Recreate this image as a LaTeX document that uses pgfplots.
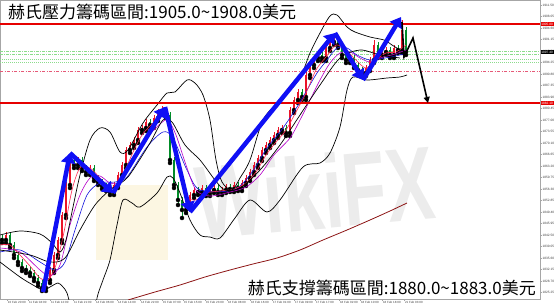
\documentclass[border=0pt]{standalone}
\usepackage{pgfplots}
\pgfplotsset{compat=1.18}
\usepackage{pgfplotstable}
\usepackage{fontspec}
\setmainfont{Liberation Sans}
\newfontfamily\cjk{Noto Sans CJK TC}
\usetikzlibrary{arrows.meta}

\definecolor{candlered}{RGB}{235,20,40}
\definecolor{candlegreen}{RGB}{0,140,40}
\definecolor{mared}{RGB}{255,40,80}
\definecolor{mapurple}{RGB}{180,0,200}
\definecolor{mablue}{RGB}{20,20,220}
\definecolor{arrowblue}{RGB}{15,15,245}
\definecolor{dkred}{RGB}{140,20,20}
\definecolor{lgreen}{RGB}{140,220,140}
\definecolor{pinkdash}{RGB}{230,90,120}
\definecolor{resred}{RGB}{230,0,0}
\definecolor{wmgray}{RGB}{236,236,236}
\definecolor{wmbeige}{RGB}{252,246,226}

\pgfplotstableread{
x lo hi blo bhi
6 1840.1 1843.4 1841.0 1842.5
46 1825.7 1829.9 1826.6 1829.0
50 1828.1 1832.9 1829.0 1832.0
54 1831.1 1837.4 1832.0 1836.5
58 1835.6 1841.9 1836.5 1841.0
62 1840.1 1849.4 1841.0 1848.5
66 1847.6 1858.4 1848.5 1857.5
70 1856.6 1866.5 1857.5 1865.0
78 1862.6 1865.9 1863.5 1865.0
90 1860.5 1863.5 1861.4 1862.6
114 1854.5 1858.4 1855.4 1857.5
118 1856.6 1861.4 1857.5 1860.5
122 1859.6 1864.4 1860.5 1863.5
126 1862.6 1868.9 1863.5 1868.0
130 1867.1 1870.4 1868.0 1869.5
134 1868.6 1871.9 1869.5 1871.0
138 1870.1 1874.9 1871.0 1874.0
142 1873.1 1875.5 1874.0 1874.6
146 1873.7 1877.3 1874.6 1876.4
154 1874.6 1878.5 1875.5 1877.6
158 1876.7 1880.3 1877.6 1879.4
162 1878.5 1881.2 1879.4 1880.0
186 1849.1 1852.4 1850.0 1851.5
190 1850.6 1855.4 1851.5 1854.5
194 1853.6 1856.9 1854.5 1856.0
202 1854.5 1857.5 1855.4 1856.6
210 1854.2 1856.9 1855.1 1856.0
214 1855.1 1857.5 1856.0 1856.6
222 1854.5 1856.9 1855.4 1856.0
226 1855.1 1857.8 1856.0 1856.9
234 1855.4 1858.4 1856.3 1857.5
242 1855.7 1859.0 1856.6 1858.1
246 1857.2 1860.5 1858.1 1859.6
250 1858.7 1862.3 1859.6 1861.4
254 1860.5 1864.4 1861.4 1863.5
258 1862.6 1866.5 1863.5 1865.6
262 1864.7 1868.9 1865.6 1868.0
266 1867.1 1870.4 1868.0 1869.5
270 1868.6 1871.9 1869.5 1871.0
274 1870.1 1873.4 1871.0 1872.5
278 1871.6 1874.9 1872.5 1874.0
282 1873.1 1875.5 1874.0 1874.6
290 1872.2 1880.9 1873.1 1880.0
294 1879.1 1883.9 1880.0 1883.0
298 1882.1 1886.3 1883.0 1885.4
306 1883.0 1891.4 1883.9 1890.5
310 1889.6 1894.4 1890.5 1893.5
314 1892.6 1896.5 1893.5 1895.6
318 1894.7 1898.0 1895.6 1896.5
326 1894.7 1899.5 1895.6 1898.6
330 1897.7 1901.9 1898.6 1900.4
334 1899.5 1903.1 1900.4 1901.6
350 1894.1 1896.5 1895.0 1895.6
366 1890.2 1893.5 1891.1 1892.6
370 1891.7 1895.9 1892.6 1895.0
374 1894.1 1901.0 1895.0 1899.5
382 1895.6 1898.3 1896.5 1897.4
386 1896.5 1898.9 1897.4 1898.0
394 1895.6 1899.5 1896.5 1898.6
402 1897.1 1907.0 1898.0 1904.0
}\upc

\pgfplotstableread{
x lo hi blo bhi
2 1840.1 1842.5 1841.0 1841.6
10 1838.6 1843.4 1839.5 1842.5
14 1835.6 1840.4 1836.5 1839.5
18 1833.5 1837.4 1834.4 1836.5
22 1831.7 1835.3 1832.6 1834.4
26 1831.1 1833.5 1832.0 1832.6
30 1830.2 1832.9 1831.1 1832.0
34 1828.7 1832.0 1829.6 1831.1
38 1827.2 1830.5 1828.1 1829.6
42 1825.7 1829.0 1826.6 1828.1
74 1862.6 1865.9 1863.5 1865.0
82 1861.7 1865.9 1862.6 1865.0
86 1860.5 1863.5 1861.4 1862.6
94 1858.7 1863.5 1859.6 1862.6
98 1857.5 1860.5 1858.4 1859.6
102 1856.3 1859.3 1857.2 1858.4
106 1855.7 1858.1 1856.6 1857.2
110 1854.5 1857.5 1855.4 1856.6
150 1874.6 1877.3 1875.5 1876.4
166 1877.6 1880.9 1878.5 1880.0
170 1864.1 1879.4 1865.0 1878.5
174 1856.6 1865.9 1857.5 1865.0
178 1851.5 1858.4 1853.0 1857.5
182 1847.6 1853.9 1850.0 1853.0
198 1854.5 1856.9 1855.4 1856.0
206 1854.2 1857.5 1855.1 1856.6
218 1854.5 1857.5 1855.4 1856.6
230 1855.4 1857.8 1856.3 1856.9
238 1855.7 1858.4 1856.6 1857.5
286 1872.2 1875.5 1873.1 1874.6
302 1883.0 1886.3 1883.9 1885.4
322 1894.7 1897.4 1895.6 1896.5
338 1898.6 1902.5 1899.5 1901.6
342 1895.6 1900.4 1896.5 1899.5
346 1894.1 1897.4 1895.0 1896.5
354 1892.6 1896.5 1893.5 1895.6
358 1891.1 1894.4 1892.0 1893.5
362 1890.2 1892.9 1891.1 1892.0
378 1895.6 1900.4 1896.5 1899.5
390 1895.6 1898.9 1896.5 1898.0
398 1897.1 1899.5 1898.0 1898.6
406 1896.5 1904.9 1897.4 1904.0
}\dnc

\begin{document}
\begin{tikzpicture}
\begin{axis}[
  scale only axis, width=540pt, height=299pt,
  at={(0,0)}, anchor=south west,
  xmin=0, xmax=540, ymin=1823.3, ymax=1913,
  clip mode=individual,
  axis line style={draw=gray!70, line width=0.6pt},
  tick style={draw=gray!70, line width=0.4pt},
  tick align=outside, major tick length=1.5pt,
  ytick pos=right, xtick pos=bottom,
  scaled y ticks=false,
  ytick={1825.25,1828.70,1832.15,1835.60,1839.05,1842.50,1845.95,1849.40,1852.85,1856.30,1859.75,1863.20,1866.65,1870.10,1873.55,1877.00,1880.45,1883.90,1887.35,1890.80,1894.25,1897.70,1901.15,1904.60,1908.05,1911.50},
  yticklabel style={font=\fontsize{3.2}{3.5}\selectfont, text=black!75, inner sep=0.8pt,
    /pgf/number format/fixed, /pgf/number format/fixed zerofill,
    /pgf/number format/precision=2, /pgf/number format/1000 sep={},
    /pgf/number format/assume math mode=true},
  xtick={7,28,50,73,95,117,140,162,183,205,227,250,272,294,315,339,360,382,404},
  xticklabels={10 Feb 20:00,11 Feb 04:00,11 Feb 12:00,11 Feb 21:00,14 Feb 06:00,14 Feb 14:00,14 Feb 22:00,15 Feb 07:00,15 Feb 15:00,15 Feb 23:00,16 Feb 08:00,16 Feb 16:00,17 Feb 01:00,17 Feb 09:00,17 Feb 17:00,18 Feb 02:00,18 Feb 10:00,18 Feb 18:00,21 Feb 03:00},
  xticklabel style={font=\fontsize{3}{3.5}\selectfont, text=black!75, anchor=north west, inner sep=0.8pt},
]
% watermark
\fill[wmbeige] (axis cs:96,1857.5) rectangle (axis cs:168,1835.0);
\node[rotate=5, font=\fontsize{80}{80}\selectfont\bfseries, text=wmgray, xscale=0.9, yscale=1.3] at (axis cs:315,1855.5) {WikiFX};

% level lines
\addplot[lgreen, line width=0.5pt, dash pattern=on 3pt off 1pt on 1pt off 1pt] coordinates {(0,1897.5) (540,1897.5)};
\addplot[lgreen, line width=0.5pt, dash pattern=on 3pt off 1pt on 1pt off 1pt] coordinates {(0,1896.8) (540,1896.8)};
\addplot[lgreen, line width=0.5pt, dash pattern=on 1pt off 1pt] coordinates {(0,1895.2) (540,1895.2)};
\addplot[lgreen, line width=0.5pt, dash pattern=on 1pt off 1pt] coordinates {(0,1894.3) (540,1894.3)};
\addplot[pinkdash, line width=0.5pt, dash pattern=on 3pt off 1.5pt on 1pt off 1.5pt] coordinates {(0,1891.7) (540,1891.7)};

% candles
\addplot[forget plot, only marks, mark=none, error bars/.cd, y dir=plus, y explicit, error mark=none,
  error bar style={draw=candlered, line width=0.5pt}] table[x=x, y=lo, y error expr=\thisrow{hi}-\thisrow{lo}] {\upc};
\addplot[forget plot, only marks, mark=none, error bars/.cd, y dir=plus, y explicit, error mark=none,
  error bar style={draw=candlered, line width=1.8pt}] table[x=x, y=blo, y error expr=\thisrow{bhi}-\thisrow{blo}] {\upc};
\addplot[forget plot, only marks, mark=none, error bars/.cd, y dir=plus, y explicit, error mark=none,
  error bar style={draw=candlegreen, line width=0.5pt}] table[x=x, y=lo, y error expr=\thisrow{hi}-\thisrow{lo}] {\dnc};
\addplot[forget plot, only marks, mark=none, error bars/.cd, y dir=plus, y explicit, error mark=none,
  error bar style={draw=candlegreen, line width=1.8pt}] table[x=x, y=blo, y error expr=\thisrow{bhi}-\thisrow{blo}] {\dnc};

% moving averages
\addplot[mablue, line width=0.6pt, smooth] coordinates {(0,1837.4) (20,1838.0) (40,1834.4) (55,1832.0) (65,1834.4) (75,1844.0) (87,1854.5) (100,1858.1) (115,1858.4) (127,1859.9) (147,1868.9) (163,1873.4) (173,1871.6) (187,1862.0) (200,1856.0) (233,1856.0) (250,1860.5) (267,1868.6) (283,1874.6) (297,1880.9) (307,1886.0) (317,1891.1) (327,1895.0) (337,1898.6) (347,1898.6) (357,1896.5) (370,1895.0) (385,1895.6) (400,1896.5) (406,1897.1)};
\addplot[mapurple, line width=0.6pt, smooth] coordinates {(0,1838.6) (20,1837.4) (40,1832.0) (50,1830.2) (60,1833.5) (70,1845.5) (80,1854.5) (90,1859.6) (100,1860.2) (110,1858.1) (120,1858.4) (130,1863.5) (140,1868.9) (150,1872.8) (160,1875.8) (168,1877.0) (176,1872.5) (186,1863.5) (196,1856.0) (210,1854.2) (230,1855.4) (246,1856.9) (260,1860.5) (274,1866.5) (290,1871.6) (300,1877.0) (310,1883.0) (320,1889.0) (330,1894.1) (340,1897.1) (350,1897.4) (360,1895.6) (370,1894.4) (380,1895.6) (395,1896.8) (406,1898.0)};
\addplot[mared, line width=0.6pt, smooth] coordinates {(0,1839.5) (10,1839.5) (20,1836.5) (30,1833.2) (40,1829.6) (48,1829.0) (56,1833.5) (64,1843.4) (72,1856.0) (80,1862.6) (90,1862.6) (100,1859.6) (110,1856.6) (118,1858.1) (126,1862.6) (134,1868.0) (142,1872.5) (150,1875.2) (158,1877.3) (166,1878.8) (172,1874.0) (178,1865.0) (186,1854.5) (196,1853.0) (206,1855.1) (220,1855.7) (234,1856.3) (246,1858.1) (256,1861.4) (266,1866.5) (276,1870.4) (286,1874.0) (296,1879.4) (306,1885.1) (316,1892.0) (326,1895.9) (336,1899.5) (346,1898.0) (356,1895.0) (366,1892.6) (376,1895.0) (386,1897.1) (396,1897.4) (406,1899.5)};

% bands
\addplot[black, line width=0.7pt, smooth] coordinates {(0,1842.5) (20,1843.7) (40,1842.8) (52,1840.1) (60,1837.4) (66,1841.0) (73,1850.9) (80,1860.5) (90,1871.0) (100,1874.6) (110,1873.4) (120,1867.4) (128,1868.0) (143,1876.1) (157,1881.5) (167,1885.1) (175,1885.4) (187,1889.0) (195,1888.1) (203,1884.5) (210,1877.0) (216,1865.0) (222,1858.4) (232,1856.0) (240,1859.6) (250,1865.0) (263,1877.0) (280,1883.0) (300,1889.9) (310,1897.1) (320,1903.1) (330,1908.2) (337,1908.5) (347,1904.9) (355,1903.4) (370,1901.9) (384,1901.0) (392,1899.5) (400,1898.0)};
\addplot[black, line width=0.7pt, smooth] coordinates {(0,1838.0) (30,1836.5) (50,1834.4) (65,1835.6) (80,1844.0) (95,1851.5) (110,1856.0) (125,1859.0) (133,1862.0) (150,1870.1) (163,1877.0) (172,1876.4) (185,1869.5) (200,1865.0) (215,1859.0) (225,1856.0) (240,1856.6) (260,1862.0) (280,1869.5) (300,1878.5) (320,1887.5) (340,1895.6) (360,1898.0) (380,1896.5) (400,1895.6)};
\addplot[black, line width=0.7pt, smooth] coordinates {(0,1834.4) (20,1829.9) (33,1827.5) (43,1826.0) (50,1826.9) (58,1828.1) (63,1826.9) (67,1825.1) (72,1820.0) (85,1811.0) (95,1817.0) (97,1823.6) (103,1829.0) (110,1835.0) (117,1845.5) (123,1853.0) (132,1852.1) (140,1850.9) (157,1855.1) (167,1859.9) (173,1859.6) (180,1855.1) (190,1847.0) (200,1842.5) (210,1841.9) (220,1841.6) (235,1847.6) (250,1853.0) (267,1849.4) (280,1853.0) (303,1862.9) (320,1864.1) (330,1867.1) (340,1874.9) (347,1886.0) (353,1889.9) (367,1889.0) (387,1889.6) (400,1889.9) (407,1890.5)};
\addplot[dkred, line width=0.8pt, smooth] coordinates {(128,1823.0) (155,1825.4) (180,1827.5) (205,1829.9) (230,1832.0) (253,1833.8) (277,1835.6) (300,1838.0) (323,1841.0) (347,1844.0) (370,1847.0) (390,1849.7) (407,1852.1)};

% resistance / support
\addplot[resred, line width=1.2pt] coordinates {(0,1905.8) (540,1905.8)};
\addplot[resred, line width=1.2pt] coordinates {(0,1882.1) (540,1882.1)};

% arrows
\addplot[arrowblue, line width=4.5pt, -{Triangle[length=10pt,width=14pt]}] coordinates {(43,1825.4) (70,1867.1)};
\addplot[arrowblue, line width=4.5pt, -{Triangle[length=10pt,width=14pt]}] coordinates {(70,1867.1) (113,1855.1)};
\addplot[arrowblue, line width=4.5pt, -{Triangle[length=10pt,width=14pt]}] coordinates {(113,1855.1) (165,1880.9)};
\addplot[arrowblue, line width=4.5pt, -{Triangle[length=10pt,width=14pt]}] coordinates {(165,1880.9) (190,1849.4)};
\addplot[arrowblue, line width=4.5pt, -{Triangle[length=10pt,width=14pt]}] coordinates {(190,1849.4) (335,1903.1)};
\addplot[arrowblue, line width=4.5pt, -{Triangle[length=10pt,width=14pt]}] coordinates {(335,1903.1) (363,1889.0)};
\addplot[arrowblue, line width=4.5pt, -{Triangle[length=10pt,width=14pt]}] coordinates {(363,1889.0) (401,1907.9)};
\addplot[black, line width=1.6pt, -{Triangle[length=6pt,width=6pt]}] coordinates {(402,1906.4) (404,1895.9) (413,1901.6) (428,1882.1)};

% axis price labels
\node[fill=resred, text=white, font=\fontsize{3.2}{3.5}\selectfont, inner sep=0.7pt, anchor=west] at (axis cs:540.5,1905.8) {1905.80};
\node[fill=resred, text=white, font=\fontsize{3.2}{3.5}\selectfont, inner sep=0.7pt, anchor=west] at (axis cs:540.5,1882.1) {1882.10};
\node[fill=black, text=white, font=\fontsize{3.2}{3.5}\selectfont, inner sep=0.7pt, anchor=west] at (axis cs:540.5,1897.4) {1897.40};

% titles
\node[anchor=west, font=\cjk\fontsize{17}{17}\selectfont, inner sep=0pt] at (rel axis cs:0.0148,0.96) {赫氏壓力籌碼區間:1905.0\textasciitilde 1908.0美元};
\node[anchor=east, font=\cjk\fontsize{17}{17}\selectfont, inner sep=0pt] at (rel axis cs:0.9926,0.037) {赫氏支撐籌碼區間:1880.0\textasciitilde 1883.0美元};
\end{axis}
\pgfresetboundingbox
\path[use as bounding box] (0,-7pt) rectangle (554pt,299pt);
\end{tikzpicture}
\end{document}
